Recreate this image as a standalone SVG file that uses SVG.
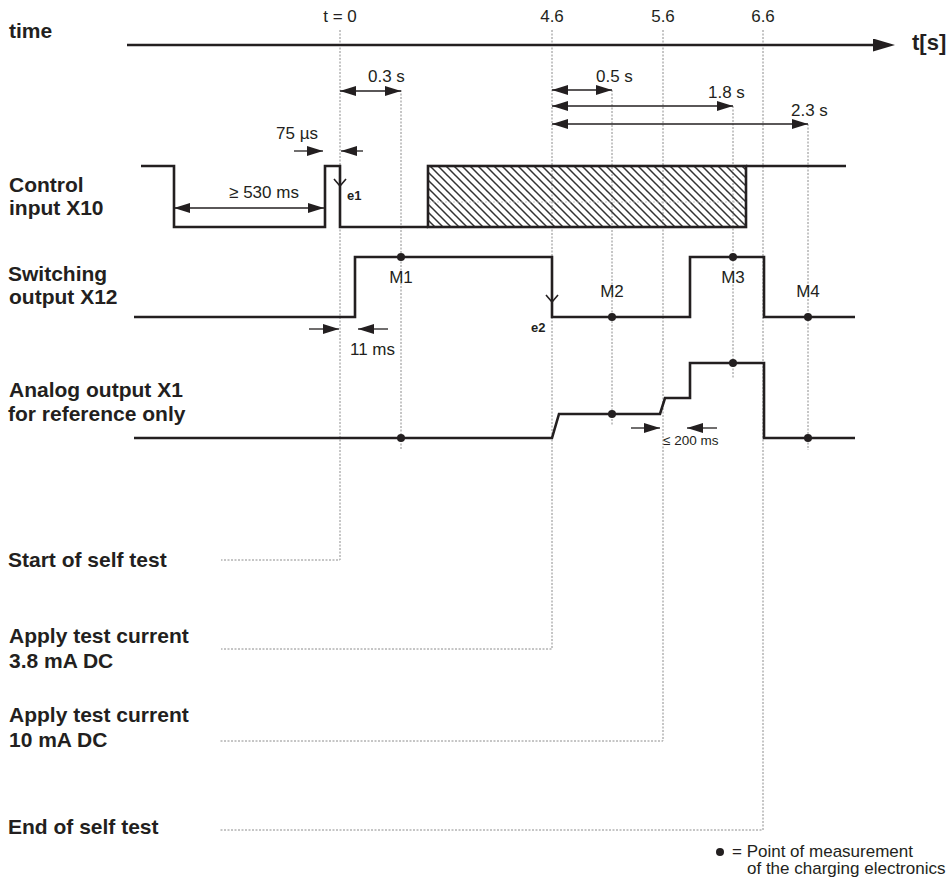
<svg xmlns="http://www.w3.org/2000/svg" width="951" height="882" viewBox="0 0 951 882">
<defs>
<style>
.lbl{font-family:"Liberation Sans",Arial,sans-serif;font-weight:bold;font-size:21px;fill:#231f20}
.sm{font-family:"Liberation Sans",Arial,sans-serif;font-size:17px;fill:#231f20}
.xs{font-family:"Liberation Sans",Arial,sans-serif;font-size:13.5px;fill:#231f20}
.tiny{font-family:"Liberation Sans",Arial,sans-serif;font-weight:bold;font-size:13px;fill:#231f20}
.wave{fill:none;stroke:#231f20;stroke-width:2.6;stroke-linejoin:miter;stroke-linecap:butt}
.guide{fill:none;stroke:#8c8c8c;stroke-width:1;stroke-dasharray:2 1.5}
.dim{fill:none;stroke:#231f20;stroke-width:1.3}
.chev{fill:none;stroke:#231f20;stroke-width:1.6}
.dot{fill:#231f20}
</style>
<marker id="ah" viewBox="0 0 16 10" refX="16" refY="5" markerWidth="16" markerHeight="10" markerUnits="userSpaceOnUse" orient="auto-start-reverse"><path d="M0,0 L16,5 L0,10 z" fill="#231f20"/></marker>
<marker id="axh" viewBox="0 0 22 13" refX="0" refY="6.5" markerWidth="22" markerHeight="13" markerUnits="userSpaceOnUse" orient="auto"><path d="M0,0 L22,6.5 L0,13 z" fill="#231f20"/></marker>
<pattern id="hatch" width="8" height="8" patternUnits="userSpaceOnUse"><path d="M-2,-2 L10,10 M-2,6 L2,10 M6,-2 L10,2" stroke="#333" stroke-width="1.5"/></pattern>
</defs>
<rect width="951" height="882" fill="#fff"/>

<g id="guides">
<path class="guide" d="M340,30 V560 H221"/>
<path class="guide" d="M401,90 V450"/>
<path class="guide" d="M552,30 V649 H221"/>
<path class="guide" d="M612,90 V425"/>
<path class="guide" d="M663,30 V741 H219"/>
<path class="guide" d="M733,106 V378"/>
<path class="guide" d="M763,30 V830 H219"/>
<path class="guide" d="M808,124 V450"/>
</g>

<g id="time-axis">
<text class="lbl" x="9" y="38">time</text>
<line x1="127" y1="45" x2="873" y2="45" stroke="#231f20" stroke-width="2.6" marker-end="url(#axh)"/>
<text class="lbl" x="912" y="50" style="font-size:22px">t[s]</text>
<text class="sm" x="340" y="22" text-anchor="middle">t = 0</text>
<text class="sm" x="552" y="22" text-anchor="middle">4.6</text>
<text class="sm" x="663" y="22" text-anchor="middle">5.6</text>
<text class="sm" x="763" y="22" text-anchor="middle">6.6</text>
</g>

<g id="control-input-x10">
<text class="lbl" x="9" y="192">Control</text>
<text class="lbl" x="9" y="215">input X10</text>
<rect x="428" y="166" width="318" height="61" fill="url(#hatch)" stroke="#231f20" stroke-width="2.6"/>
<line x1="429" y1="202" x2="745" y2="202" stroke="#bbb" stroke-width="0.8" stroke-dasharray="2 2"/>
<path class="wave" d="M141,166 H174 V227 H325 V166 H340 V227 H428"/>
<path class="wave" d="M746,166 H846"/>
<path class="chev" d="M334,179 L340,186 L346,179"/>
<text class="tiny" x="347" y="200">e1</text>
</g>

<g id="switching-output-x12">
<text class="lbl" x="8" y="281">Switching</text>
<text class="lbl" x="9" y="304">output X12</text>
<path class="wave" d="M134,317 H355 V257 H552 V317 H690 V257 H764 V317 H855"/>
<path class="chev" d="M546,295 L552,302 L558,295"/>
<text class="tiny" x="531" y="332">e2</text>
<circle class="dot" cx="401" cy="257" r="4"/>
<circle class="dot" cx="612" cy="317" r="4"/>
<circle class="dot" cx="733" cy="257" r="4"/>
<circle class="dot" cx="808" cy="317" r="4"/>
<text class="sm" x="401" y="283" text-anchor="middle">M1</text>
<text class="sm" x="612" y="297" text-anchor="middle">M2</text>
<text class="sm" x="733" y="283" text-anchor="middle">M3</text>
<text class="sm" x="808" y="297" text-anchor="middle">M4</text>
</g>

<g id="analog-output-x1">
<text class="lbl" x="9" y="397">Analog output X1</text>
<text class="lbl" x="8" y="421">for reference only</text>
<path class="wave" d="M134,438 H552 L559,414 H660 L665,398 H690 V363 H764 V438 H855"/>
<circle class="dot" cx="401" cy="438" r="4"/>
<circle class="dot" cx="612" cy="414" r="4"/>
<circle class="dot" cx="733" cy="363" r="4"/>
<circle class="dot" cx="808" cy="438" r="4"/>
</g>

<g id="dimensions">
<line class="dim" x1="340" y1="91" x2="401" y2="91" marker-start="url(#ah)" marker-end="url(#ah)"/>
<text class="sm" x="368" y="82">0.3 s</text>
<line class="dim" x1="552" y1="90" x2="612" y2="90" marker-start="url(#ah)" marker-end="url(#ah)"/>
<text class="sm" x="596" y="82">0.5 s</text>
<line class="dim" x1="552" y1="106" x2="733" y2="106" marker-start="url(#ah)" marker-end="url(#ah)"/>
<text class="sm" x="708" y="98">1.8 s</text>
<line class="dim" x1="552" y1="124" x2="808" y2="124" marker-start="url(#ah)" marker-end="url(#ah)"/>
<text class="sm" x="791" y="116">2.3 s</text>
<line class="dim" x1="294" y1="151" x2="323" y2="151" marker-end="url(#ah)"/>
<line class="dim" x1="363" y1="151" x2="341" y2="151" marker-end="url(#ah)"/>
<text class="sm" x="276" y="139">75 µs</text>
<line class="dim" x1="174" y1="208" x2="324" y2="208" marker-start="url(#ah)" marker-end="url(#ah)"/>
<text class="sm" x="264" y="197.5" text-anchor="middle">≥ 530 ms</text>
<line class="dim" x1="309" y1="329" x2="339" y2="329" marker-end="url(#ah)"/>
<line class="dim" x1="388" y1="329" x2="358" y2="329" marker-end="url(#ah)"/>
<text class="sm" x="350" y="355">11 ms</text>
<line class="dim" x1="631" y1="428" x2="660" y2="428" marker-end="url(#ah)"/>
<line class="dim" x1="717" y1="428" x2="687" y2="428" marker-end="url(#ah)"/>
<text class="xs" x="663" y="445">≤ 200 ms</text>
</g>

<g id="events">
<text class="lbl" x="8" y="567">Start of self test</text>
<text class="lbl" x="9" y="643">Apply test current</text>
<text class="lbl" x="9" y="668">3.8 mA DC</text>
<text class="lbl" x="9" y="722">Apply test current</text>
<text class="lbl" x="9" y="747">10 mA DC</text>
<text class="lbl" x="8" y="834">End of self test</text>
</g>

<g id="legend">
<circle class="dot" cx="720" cy="852" r="4"/>
<text class="sm" x="732" y="857">= Point of measurement</text>
<text class="sm" x="747" y="874">of the charging electronics</text>
</g>
</svg>
